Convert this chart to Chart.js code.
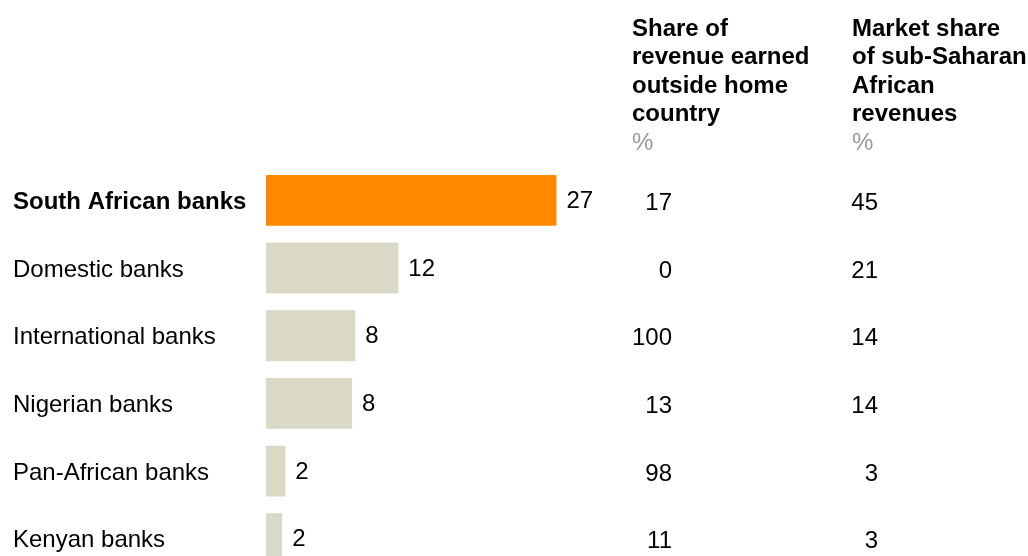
<!DOCTYPE html>
<html>
<head>
<meta charset="utf-8">
<script src="https://cdn.jsdelivr.net/npm/chart.js@4.4.1/dist/chart.umd.min.js"></script>
<style>
    html, body { margin: 0; padding: 0; background: #fff; overflow: hidden; }
    #bank-chart { display: block; }
</style>
</head>
<body>
<canvas id="bank-chart" width="1028" height="590"></canvas>
<script>
// categories and values
const categories = ["South African banks", "Domestic banks", "International banks", "Nigerian banks", "Pan-African banks", "Kenyan banks"];
const revenueGrowth = [27, 12.3, 8.3, 8.0, 1.8, 1.5];
const shareOutside = [17, 0, 100, 13, 98, 11];
const marketShare = [45, 21, 14, 14, 3, 3];
const headerOutside = ["Share of", "revenue earned", "outside home", "country"];
const headerMarket = ["Market share", "of sub-Saharan", "African", "revenues"];
const unitLabel = "%";

const FONT = "'Liberation Sans', Arial, sans-serif";
const ORANGE = "#FF8800";
const BEIGE = "#DAD9C6";

// draws value labels, the two side columns and their headers
const tablePlugin = {
    id: "tablePlugin",
    afterDatasetsDraw(chart) {
        const ctx = chart.ctx;
        const yScale = chart.scales.y;
        const bars = chart.getDatasetMeta(0).data;
        ctx.save();
        ctx.fillStyle = "#000";
        ctx.font = "24px " + FONT;
        ctx.textBaseline = "middle";

        // value at the end of each bar
        ctx.textAlign = "left";
        bars.forEach((bar, i) => {
            ctx.fillText(String(Math.round(revenueGrowth[i])), bar.x + 10, bar.y + 1);
        });

        // side columns, right aligned
        ctx.textAlign = "right";
        categories.forEach((c, i) => {
            let y = yScale.getPixelForValue(i) + 3;
            ctx.fillText(String(shareOutside[i]), 672, y);
            ctx.fillText(String(marketShare[i]), 878, y);
        });

        // column headers
        ctx.textAlign = "left";
        ctx.textBaseline = "alphabetic";
        ctx.font = "bold 24px " + FONT;
        headerOutside.forEach((t, i) => ctx.fillText(t, 632, 36 + i * 28.4));
        headerMarket.forEach((t, i) => ctx.fillText(t, 852, 36 + i * 28.4));
        ctx.font = "24px " + FONT;
        ctx.fillStyle = "#9a9a9a";
        ctx.fillText(unitLabel, 632, 150);
        ctx.fillText(unitLabel, 852, 150);
        ctx.restore();
    }
};

let ctx = document.getElementById("bank-chart").getContext("2d");
let bankChart = new Chart(ctx, {
    type: "bar",
    data: {
        labels: categories,
        datasets: [{
            data: revenueGrowth,
            backgroundColor: categories.map((c, i) => i === 0 ? ORANGE : BEIGE),
            borderWidth: 0,
            categoryPercentage: 1,
            barPercentage: 0.752,
        }],
    },
    options: {
        indexAxis: "y",
        responsive: false,
        animation: false,
        layout: { padding: { left: 13, top: 166.5, right: 116.4, bottom: 6.7 } },
        plugins: {
            legend: { display: false },
            tooltip: { enabled: false },
        },
        scales: {
            x: { display: false, min: 0, max: 60 },
            y: {
                grid: { display: false },
                border: { display: false },
                ticks: {
                    crossAlign: "far",
                    color: "#000",
                    labelOffset: 2,
                    font: (c) => ({ family: FONT, size: 24, weight: c.index === 0 ? "bold" : "normal" }),
                },
                afterFit: (scale) => { scale.width = 253; },
            },
        },
    },
    plugins: [tablePlugin],
});
</script>
</body>
</html>
